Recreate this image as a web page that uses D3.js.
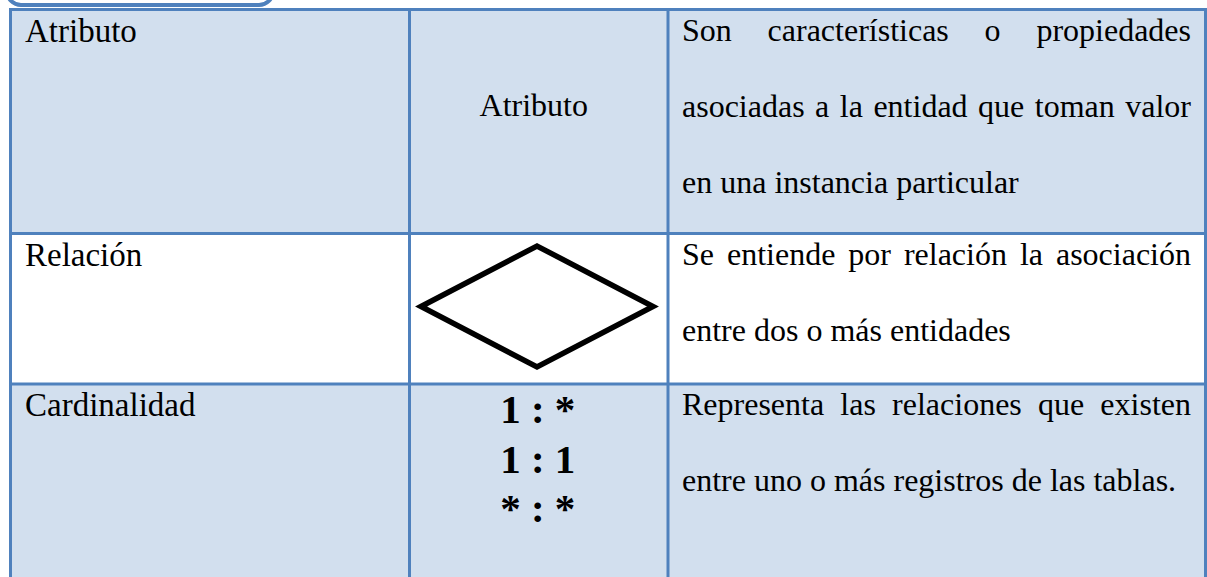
<!DOCTYPE html>
<html><head><meta charset="utf-8">
<script src="https://cdn.jsdelivr.net/npm/d3@7"></script>
<style>html,body{margin:0;padding:0;background:#fff;overflow:hidden}</style>
</head><body><svg id="c" width="1207" height="577"></svg>
<script>
// ---- data ----
const rowLabels = ["Atributo", "Relación", "Cardinalidad"];
const symbolKinds = ["text", "diamond", "lines"];
const symbolText = "Atributo";
const cardinalities = ["1 : *", "1 : 1", "* : *"];
const descAtributo = ["Son características o propiedades", "asociadas a la entidad que toman valor", "en una instancia particular"];
const descRelacion = ["Se entiende por relación la asociación", "entre dos o más entidades"];
const descCardinalidad = ["Representa las relaciones que existen", "entre uno o más registros de las tablas."];
const descriptions = [descAtributo, descRelacion, descCardinalidad];

// ---- layout ----
const W = 1207, H = 577;
const blue = "#4f81bd", light = "#d2dfee";
const colEdges = [10.5, 409.5, 668, 1205.5];
const rowEdges = [9.5, 233.5, 384, 640];
const rowFills = [light, "#ffffff", light];
const serif = "'Liberation Serif','Times New Roman',serif";

const svg = d3.select("#c");
const rowTop = d3.scaleOrdinal().domain(rowLabels).range(rowEdges.slice(0, 3));
const rowBottom = d3.scaleOrdinal().domain(rowLabels).range(rowEdges.slice(1));

// top rounded box fragment
svg.append("rect").attr("x", 7).attr("y", -40).attr("width", 266).attr("height", 45)
  .attr("rx", 14).attr("fill", "#fff").attr("stroke", blue).attr("stroke-width", 4);

// row fills
svg.selectAll("rect.row").data(rowLabels).join("rect").attr("class", "row")
  .attr("x", colEdges[0]).attr("y", d => rowTop(d))
  .attr("width", colEdges[3] - colEdges[0]).attr("height", d => rowBottom(d) - rowTop(d))
  .attr("fill", (d, i) => rowFills[i]);

// grid lines
svg.selectAll("line.h").data(rowEdges).join("line").attr("class", "h")
  .attr("x1", colEdges[0] - 1.5).attr("x2", colEdges[3] + 1.5).attr("y1", d => d).attr("y2", d => d)
  .attr("stroke", blue).attr("stroke-width", 3);
svg.selectAll("line.v").data(colEdges).join("line").attr("class", "v")
  .attr("x1", d => d).attr("x2", d => d).attr("y1", rowEdges[0] - 1.5).attr("y2", H + 10)
  .attr("stroke", blue).attr("stroke-width", 3);

// column 1 labels
svg.selectAll("text.lab").data(rowLabels).join("text").attr("class", "lab")
  .attr("x", 25).attr("y", d => rowTop(d) + 32)
  .attr("font-family", serif).attr("font-size", 33).attr("fill", "#000").text(d => d);

// column 2 symbols
const c2 = (colEdges[1] + colEdges[2]) / 2;
svg.append("text").attr("x", c2 - 5).attr("y", 116).attr("text-anchor", "middle")
  .attr("font-family", serif).attr("font-size", 32).text(symbolText);

const rTop = rowTop(rowLabels[1]);
const diamond = [[421, rTop + 73], [537, rTop + 12.5], [653, rTop + 73], [537, rTop + 133.5]];
svg.append("path").attr("d", d3.line()(diamond) + "Z")
  .attr("fill", "none").attr("stroke", "#000").attr("stroke-width", 5.5).attr("stroke-linejoin", "miter");

const cTop = rowTop(rowLabels[2]);
svg.selectAll("text.card").data(cardinalities).join("text").attr("class", "card")
  .attr("x", c2 - 1).attr("y", (d, i) => cTop + 39 + i * 49.5).attr("text-anchor", "middle")
  .attr("font-family", serif).attr("font-size", 41).attr("font-weight", "bold").text(d => d);

// column 3 descriptions (justified)
const x0 = 682, x1 = 1191, lineGap = 76;
descriptions.forEach((lines, r) => {
  const top = rowTop(rowLabels[r]);
  lines.forEach((line, li) => {
    const y = top + 31 + li * lineGap;
    const words = line.split(" ");
    const g = svg.append("g");
    const ts = words.map(w => g.append("text").attr("y", y).attr("font-family", serif)
      .attr("font-size", 32).attr("fill", "#000").text(w));
    const widths = ts.map(t => t.node().getComputedTextLength());
    const justify = li < lines.length - 1;
    const spaceW = justify ? ((x1 - x0) - d3.sum(widths)) / (words.length - 1) : 32 * 0.25;
    let x = x0;
    ts.forEach((t, i) => { t.attr("x", x); x += widths[i] + spaceW; });
  });
});
</script></body></html>
